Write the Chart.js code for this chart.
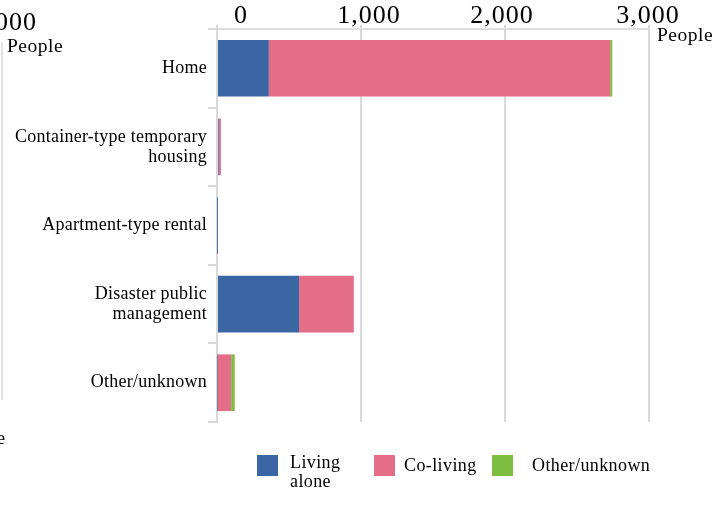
<!DOCTYPE html>
<html>
<head>
<meta charset="utf-8">
<script src="https://cdn.jsdelivr.net/npm/chart.js@4"></script>
<style>
  body { margin: 0; background: #fff; font-family: "Liberation Serif", serif; }
  #wrap { position: relative; width: 725px; height: 506px; overflow: hidden; }
  #chart { position: absolute; left: 0; top: 0; }
  .txt { position: absolute; color: #000; white-space: nowrap; }
  #leftLine { position: absolute; left: 1px; top: 42px; width: 2px; height: 358px; background: #e2e2e2; }
  #legend { position: absolute; left: 0; top: 0; font-size: 18px; letter-spacing: 0.4px; }
  .item { position: absolute; display: flex; align-items: flex-start; white-space: nowrap; }
  .box { width: 21px; height: 21px; flex: none; }
  .lbl { line-height: 19px; white-space: nowrap; }
</style>
</head>
<body>
<div id="wrap">
  <canvas id="chart" width="725" height="506"></canvas>
  <!-- cut-off neighbour chart on the left -->
  <div class="txt" style="left:-5px;top:7px;font-size:26px;letter-spacing:1px;">000</div>
  <div class="txt" style="left:7px;top:35px;font-size:19.5px;letter-spacing:0.5px;">People</div>
  <div id="leftLine"></div>
  <div class="txt" style="left:-3px;top:428px;font-size:18px;">e</div>
  <div id="legend"></div>
</div>
<script>
const categories = [
  "Home",
  ["Container-type temporary", "housing"],
  "Apartment-type rental",
  ["Disaster public", "management"],
  "Other/unknown"
];
const seriesNames = [["Living", "alone"], ["Co-living"], ["Other/unknown"]];
const livingAlone = [360, 12, 1, 570, 3];
const coLiving = [2370, 15, 1, 380, 95];
const otherUnknown = [15, 0, 0, 0, 25];
const xTicks = [0, 1000, 2000, 3000];

const color = { Blue: "#3a67a3", Pink: "#e46d88", Green: "#7dbd42" };
const seriesColors = [color.Blue, color.Pink, color.Green];

// the printed tick labels sit a little off their grid lines
const tickShift = [24, 8, -3, -1];
// legend placement: box left, gap to text, text top
const legendPos = [[257, 12, 453], [374, 9, 456], [492, 19, 456]];

const axisText = {
  id: "axisText",
  beforeDraw(chart) {
    chart.ctx.letterSpacing = "0.25px";
  },
  afterDraw(chart) {
    const ctx = chart.ctx;
    const x = chart.scales.x;
    ctx.save();
    ctx.fillStyle = "#000";
    ctx.textBaseline = "alphabetic";
    ctx.textAlign = "center";
    ctx.font = "26px 'Liberation Serif'";
    ctx.letterSpacing = "1px";
    xTicks.forEach((v, i) => {
      ctx.fillText(v.toLocaleString("en-US"), x.getPixelForValue(v) + tickShift[i], 23);
    });
    ctx.textAlign = "left";
    ctx.font = "19.5px 'Liberation Serif'";
    ctx.letterSpacing = "0.5px";
    ctx.fillText("People", x.right + 8, 41);
    ctx.restore();
  }
};

const chartData = {
  labels: categories,
  datasets: [
    { label: "Living alone", data: livingAlone, backgroundColor: color.Blue },
    { label: "Co-living", data: coLiving, backgroundColor: color.Pink },
    { label: "Other/unknown", data: otherUnknown, backgroundColor: color.Green },
  ],
};

const chartConfig = {
  type: "bar",
  data: chartData,
  plugins: [axisText],
  options: {
    indexAxis: "y",
    responsive: false,
    animation: false,
    devicePixelRatio: 1,
    layout: { padding: { left: 0, right: 76, top: 0, bottom: 84 } },
    datasets: { bar: { barPercentage: 0.72, categoryPercentage: 1 } },
    plugins: { legend: { display: false }, tooltip: { enabled: false } },
    scales: {
      x: {
        position: "top",
        stacked: true,
        min: 0,
        max: 3000,
        afterBuildTicks: (s) => { s.ticks = xTicks.map(v => ({ value: v })); },
        afterFit: (s) => { s.height = 29; },
        ticks: { display: false },
        grid: { color: "#d9d9d9", lineWidth: 2, tickLength: 4 },
        border: { color: "#dedede", width: 2 },
      },
      y: {
        stacked: true,
        afterFit: (s) => { s.width = 217; },
        ticks: {
          padding: 1,
          color: "#000",
          font: { family: "Liberation Serif", size: 18, lineHeight: 1.1 },
        },
        grid: { offset: true, drawOnChartArea: false, color: "#d9d9d9", lineWidth: 2, tickLength: 9 },
        border: { color: "#d9d9d9", width: 2 },
      },
    },
  },
};

new Chart(document.getElementById("chart"), chartConfig);

// legend
const legend = document.getElementById("legend");
seriesNames.forEach((name, i) => {
  const [left, gap, top] = legendPos[i];
  const item = document.createElement("div");
  item.className = "item";
  item.style.left = left + "px";
  item.style.top = top + "px";
  const box = document.createElement("div");
  box.className = "box";
  box.style.background = seriesColors[i];
  box.style.marginTop = (455 - top) + "px";
  const lbl = document.createElement("div");
  lbl.className = "lbl";
  lbl.style.marginLeft = gap + "px";
  lbl.innerHTML = name.join("<br>");
  item.appendChild(box);
  item.appendChild(lbl);
  legend.appendChild(item);
});
</script>
</body>
</html>
